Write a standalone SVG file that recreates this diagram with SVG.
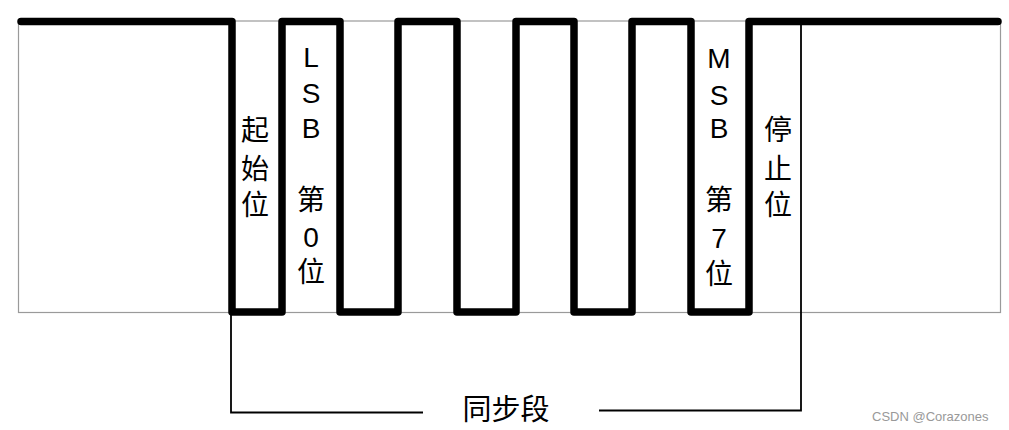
<svg xmlns="http://www.w3.org/2000/svg" width="1009" height="430" viewBox="0 0 1009 430">
<style>
  .frame{fill:none;stroke:#9a9a9a;stroke-width:1.2}
  .wave{fill:none;stroke:#000;stroke-width:7.5;stroke-linejoin:round;stroke-linecap:round}
  .thin{fill:none;stroke:#000;stroke-width:1.8}
  .lbl{font-family:"Liberation Sans","Noto Sans CJK SC",sans-serif;font-size:28px;fill:#000;text-anchor:middle}
  .cap{font-family:"Noto Sans CJK SC","Liberation Sans",sans-serif;font-size:29px;fill:#000;text-anchor:middle}
  .wm{font-family:"Liberation Sans",sans-serif;font-size:13px;fill:#999}
</style>
<rect width="1009" height="430" fill="#fff"/>
<g id="frame">
  <rect class="frame" x="18.5" y="21" width="982" height="291.5"/>
</g>
<g id="connectors">
  <path class="thin" d="M231,313 V412.5 H423"/>
  <path class="thin" d="M599,410.5 H801 V25"/>
</g>
<g id="waveform">
  <path class="wave" d="M21,21.5 H232 V312 H282 V21.5 H340 V312 H398 V21.5 H457 V312 H516 V21.5 H574 V312 H632 V21.5 H691 V312 H749 V21.5 H998"/>
</g>
<g id="start-bit">
  <text class="lbl" x="255" y="140">起</text>
  <text class="lbl" x="255" y="179">始</text>
  <text class="lbl" x="255" y="215">位</text>
</g>
<g id="lsb-bit">
  <text class="lbl" x="311" y="67">L</text>
  <text class="lbl" x="311" y="103">S</text>
  <text class="lbl" x="311" y="138">B</text>
  <text class="lbl" x="311" y="210">第</text>
  <text class="lbl" x="311" y="247">0</text>
  <text class="lbl" x="311" y="282">位</text>
</g>
<g id="msb-bit">
  <text class="lbl" x="719" y="68">M</text>
  <text class="lbl" x="719" y="105">S</text>
  <text class="lbl" x="719" y="138">B</text>
  <text class="lbl" x="719" y="210">第</text>
  <text class="lbl" x="719" y="248">7</text>
  <text class="lbl" x="719" y="284">位</text>
</g>
<g id="stop-bit">
  <text class="lbl" x="778" y="140">停</text>
  <text class="lbl" x="778" y="179">止</text>
  <text class="lbl" x="778" y="215">位</text>
</g>
<g id="sync-label">
  <text class="cap" x="506" y="420">同步段</text>
</g>
<g id="watermark">
  <text class="wm" x="872" y="421">CSDN @Corazones</text>
</g>
</svg>
